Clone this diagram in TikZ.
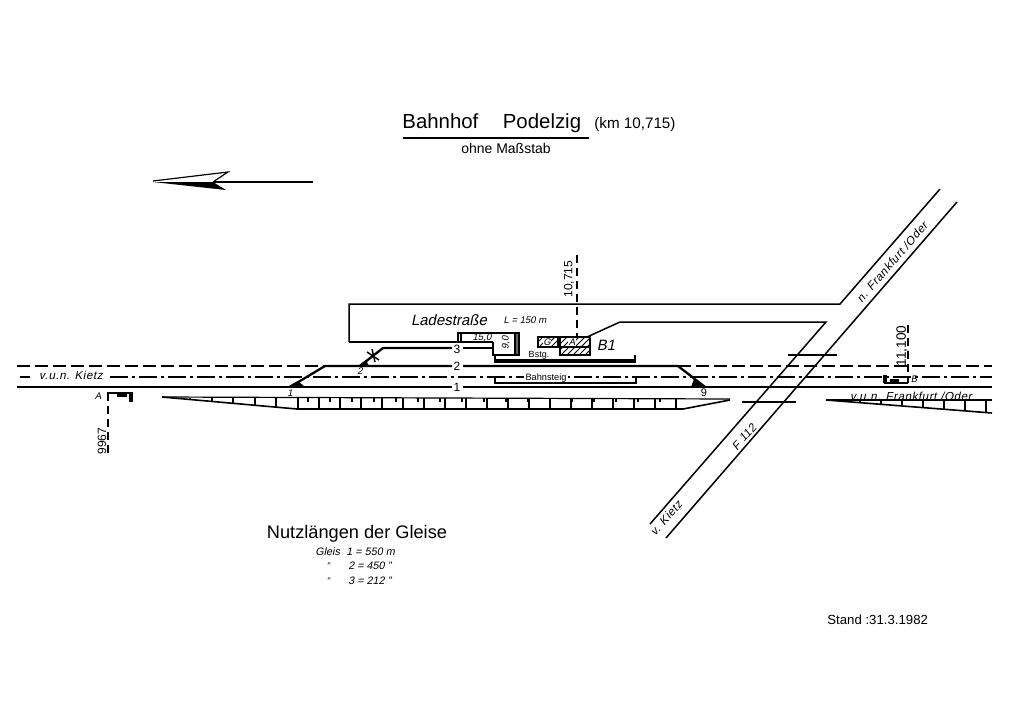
\documentclass[tikz,border=0pt]{standalone}
\usepackage{fontspec}
\setmainfont{Liberation Sans}
\usetikzlibrary{patterns}

\begin{document}
\begin{tikzpicture}[x=0.5pt,y=-0.5pt,line cap=butt,
                    track line/.style={line width=1.15pt},
                    thin line/.style={line width=0.6pt},
                    road line/.style={line width=0.75pt},
                    dash line/.style={line width=0.8pt,dash pattern=on 6.5pt off 2.5pt},
                    axis line/.style={line width=0.7pt,dash pattern=on 9pt off 2pt on 1.5pt off 2pt},
                    km line/.style={line width=0.7pt,dash pattern=on 4pt off 2.5pt},
                    main label/.style={inner sep=0pt,font=\fontsize{6}{7}\selectfont},
                    slant label/.style={inner sep=0pt,font=\fontsize{4.8}{6}\selectfont\addfontfeature{FakeSlant=0.2}},
                    line label/.style={inner sep=0pt,font=\fontsize{5.8}{7}\selectfont\addfontfeature{FakeSlant=0.2,LetterSpace=5}},
                    hatch box/.style={draw,line width=0.6pt,pattern=north east lines}]
  \useasboundingbox (0,0) rectangle (1024,724);

  \node[main label,font=\fontsize{10.2}{12}\selectfont,anchor=west] (title) at (402,123) {Bahnhof\hspace{1.2em}Podelzig};
  \node[main label,font=\fontsize{7.6}{9}\selectfont,anchor=west] (km) at (594,125) {(km 10,715)};
  \node[main label,font=\fontsize{7}{8}\selectfont] (scale) at (506,148) {ohne Maßstab};
  \draw[line width=1.1pt] (403,138) -- (589,138);

  \draw[thin line] (213,182) -- (313,182);
  \draw[thin line] (153,181) -- (228,172) -- (213,182);
  \fill (153,182) -- (213,182) -- (226,190) -- cycle;

  \draw[track line] (17,387) -- (452,387) (463,387) -- (992,387);
  \draw[track line] (290,387) -- (325,366) -- (452,366) (463,366) -- (678,366) -- (705,387);
  \draw[dash line] (17,366) -- (325,366) (678,366) -- (992,366);
  \draw[axis line] (20,377) -- (30,377) (110,377) -- (992,377);
  \fill (287,387) -- (305,387) -- (298,381) -- cycle;
  \fill (691,387) -- (707,387) -- (694,379) -- cycle;
  \fill (358,366) -- (369,366) -- (366,360) -- cycle;
  \node[main label] (track1) at (457,387) {1};
  \node[main label] (track2) at (457,366) {2};
  \node[main label] (track3) at (457,349) {3};
  \node[slant label] (switch1) at (290,393) {1};
  \node[slant label] (switch2) at (360,371) {2};
  \node[slant label,font=\fontsize{5.5}{6}\selectfont] (switch9) at (704,393) {9};

  \draw[track line] (360,366) -- (383,348) -- (452,348);
  \draw[track line] (463,348) -- (493,348);
  \draw[road line] (493,342) -- (493,355) -- (517,355);
  \draw[line width=0.7pt] (367,352) -- (379,360) (372,349) -- (375,362);

  \draw[road line] (349,342) -- (349,304) -- (840,304) -- (940,189);
  \draw[road line] (349,342) -- (457,342);
  \draw[road line] (587,337) -- (620,322) -- (826,322) -- (650,524);
  \draw[road line] (957,202) -- (666,538);
  \draw[road line] (458,333) -- (517,333) (460,342) -- (493,342);
  \draw[line width=0.7pt] (458,333) rectangle (461,342);
  \filldraw[fill=black!60,line width=0.6pt] (515,333) rectangle (519,355);
  \node[slant label] (ramp15) at (482,338) {15,0};
  \node[slant label,rotate=90] (ramp9) at (506,343) {9,0};
  \node[slant label,font=\fontsize{7.5}{8}\selectfont\addfontfeature{FakeSlant=0.2}] (road) at (449,320) {Ladestraße};
  \node[slant label] (roadlen) at (525,320) {L = 150 m};

  \draw[km line] (577,255) -- (577,337);
  \node[main label,rotate=90] (kmmark) at (569,279) {10,715};

  \draw[hatch box] (538,337) rectangle (558,347);
  \draw[hatch box] (560,337) rectangle (590,347);
  \draw[hatch box] (560,347) rectangle (590,355);
  \node[slant label,fill=white,inner sep=0.3pt] (goods) at (547,342) {G};
  \node[slant label,fill=white,inner sep=0.3pt] (agent) at (572,342) {A};
  \node[main label,font=\fontsize{7.5}{9}\selectfont\addfontfeature{FakeSlant=0.2}] (block) at (606,345) {B1};

  \draw[line width=1pt] (495,355) -- (495,362) -- (635,362) -- (635,355);
  \draw[thin line] (495,360) -- (635,360);
  \node[main label,font=\fontsize{4.5}{5}\selectfont] (bstg) at (539,355) {Bstg.};
  \draw[line width=1pt] (495,378) -- (495,383) -- (636,383) -- (636,378);
  \node[main label,font=\fontsize{4.6}{5}\selectfont,fill=white,inner xsep=1pt] (platform) at (546,378) {Bahnsteig};

  \draw[thin line] (162,397) -- (730,399);
  \draw[line width=0.8pt] (162,397) -- (297,409) -- (683,409) -- (730,400);
  \foreach \tx in {190,212,233,255,276,298,319,...,683}
    \draw[thin line] ({\tx},398) -- ({\tx},{min(409,397+(\tx-162)*12/135)});
  \foreach \tx in {308,330,...,672}
    \draw[thin line] (\tx,398) -- (\tx,402);

  \draw[thin line] (826,400) -- (992,400);
  \draw[line width=0.8pt] (826,400) -- (992,413);
  \foreach \tx in {860,881,...,990}
    \draw[thin line] (\tx,400) -- ({\tx},{400+(\tx-826)*13/166});

  \draw[line width=0.8pt] (788,355) -- (830,355);
  \draw[line width=1.3pt] (826,355) -- (837,355);
  \draw[line width=0.8pt] (750,402) -- (796,402);
  \draw[line width=1.3pt] (742,402) -- (754,402);

  \draw[thin line] (107,393) -- (133,393);
  \fill (117,393) rectangle (127,396.5);
  \fill (129,393) rectangle (133,402);
  \draw[km line] (108,393) -- (108,455);
  \node[main label,rotate=90] (signalpos) at (102,441) {9967};
  \node[slant label] (signala) at (98,396) {A};

  \draw[thin line] (908,383) -- (884,383);
  \fill (883,375) rectangle (887,383);
  \fill (890,379) rectangle (899,383);
  \draw[km line] (908,325) -- (908,383);
  \node[main label,font=\fontsize{6.8}{8}\selectfont,rotate=90] (signalkm) at (902,346) {11,100};
  \node[slant label] (signalb) at (914,379) {B};

  \node[line label] (kietz) at (71,375) {v.u.n. Kietz};
  \node[line label] (frankfurt) at (911,396) {v.u.n. Frankfurt /Oder};
  \node[line label,rotate=49] (north) at (892,262) {n. Frankfurt /Oder};
  \node[line label,rotate=49] (roadname) at (744,437) {F 112};
  \node[line label,rotate=49] (south) at (666,518) {v. Kietz};

  \node[main label,font=\fontsize{9.1}{10}\selectfont] (lengths) at (357,534) {Nutzlängen der Gleise};
  \node[slant label,font=\fontsize{5.4}{6}\selectfont\addfontfeature{FakeSlant=0.2},anchor=west] (gleis1) at (315,552) {Gleis\hspace{0.6em}1 = 550 m};
  \node[slant label,anchor=west] (ditto2a) at (326,566) {"};
  \node[slant label,font=\fontsize{5.4}{6}\selectfont\addfontfeature{FakeSlant=0.2},anchor=west] (gleis2) at (348,566) {2 = 450 "};
  \node[slant label,anchor=west] (ditto3a) at (326,581) {"};
  \node[slant label,font=\fontsize{5.4}{6}\selectfont\addfontfeature{FakeSlant=0.2},anchor=west] (gleis3) at (348,581) {3 = 212 "};

  \node[main label,font=\fontsize{6.6}{8}\selectfont,anchor=west] (status) at (827,620) {Stand :31.3.1982};
\end{tikzpicture}
\end{document}
